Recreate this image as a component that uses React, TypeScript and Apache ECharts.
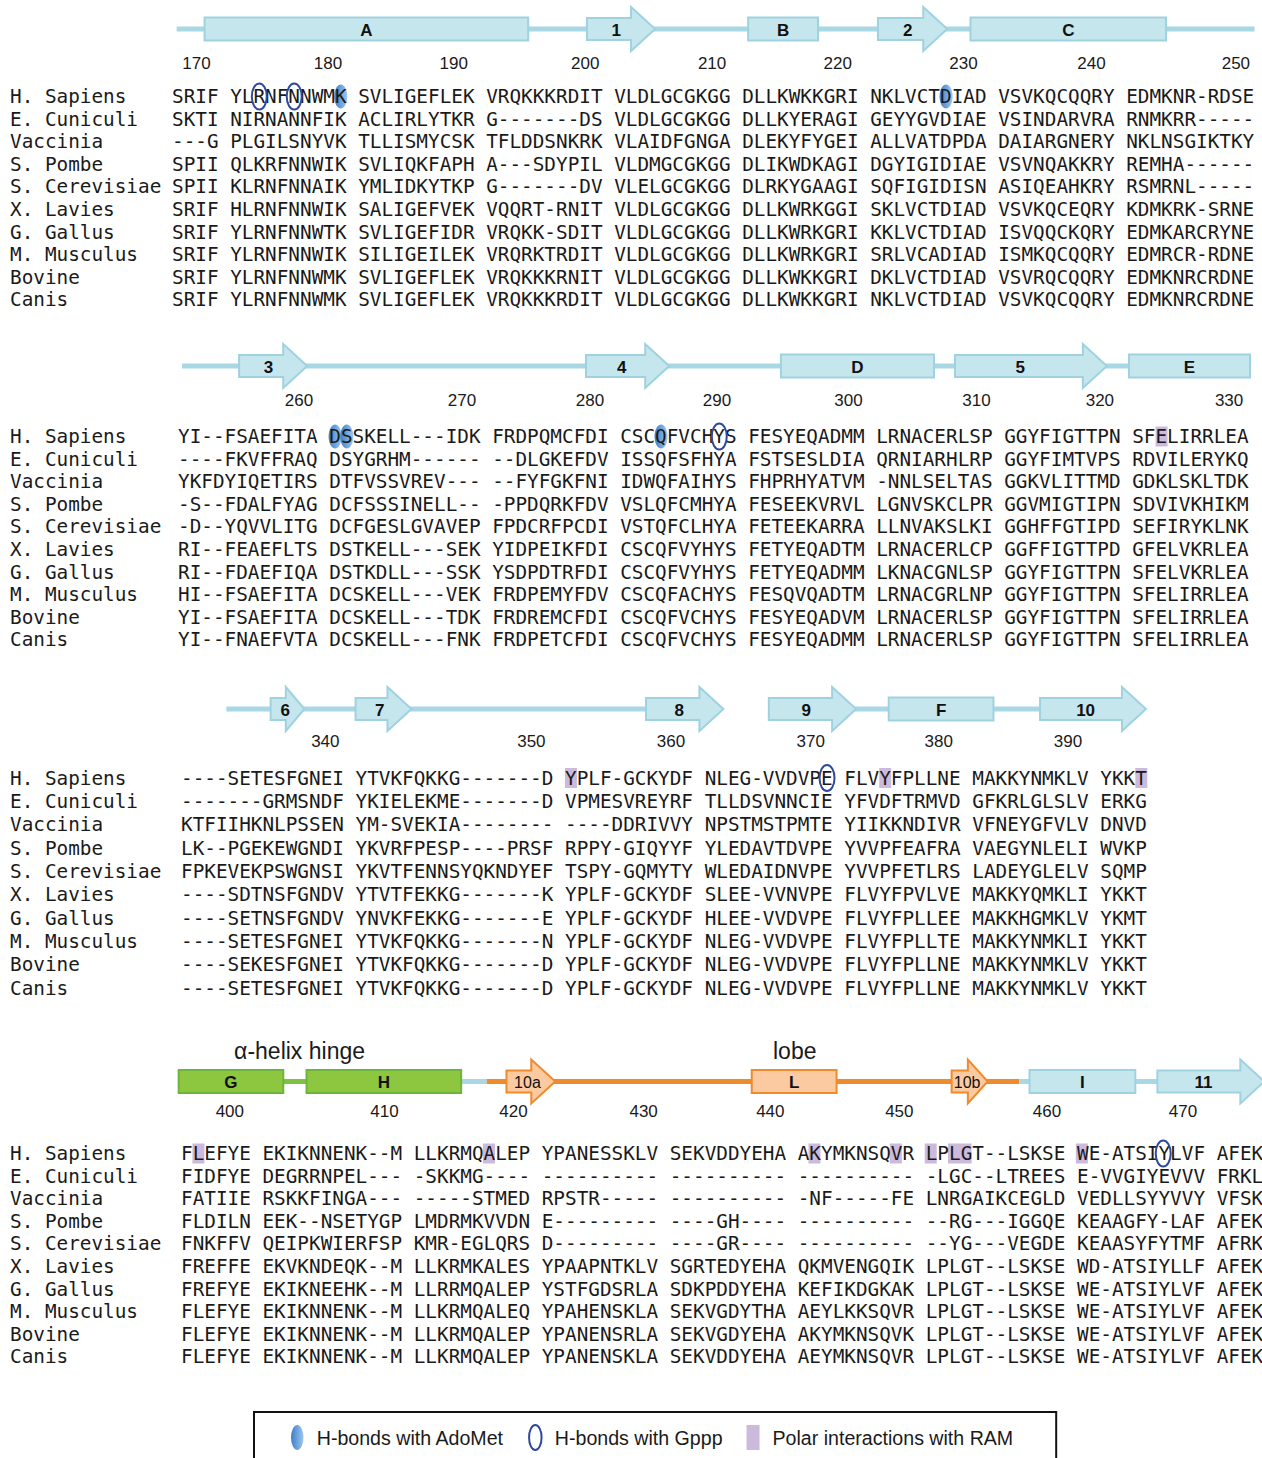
import React, { useEffect, useRef } from "react";
import * as echarts from "echarts";

// ---------------- data ----------------
const SPECIES = ["H. Sapiens", "E. Cuniculi", "Vaccinia", "S. Pombe", "S. Cerevisiae", "X. Lavies", "G. Gallus", "M. Musculus", "Bovine", "Canis"];

const SEQ_1 = [
  "SRIF YLRNFNNWMK SVLIGEFLEK VRQKKKRDIT VLDLGCGKGG DLLKWKKGRI NKLVCTDIAD VSVKQCQQRY EDMKNR-RDSE",
  "SKTI NIRNANNFIK ACLIRLYTKR G-------DS VLDLGCGKGG DLLKYERAGI GEYYGVDIAE VSINDARVRA RNMKRR-----",
  "---G PLGILSNYVK TLLISMYCSK TFLDDSNKRK VLAIDFGNGA DLEKYFYGEI ALLVATDPDA DAIARGNERY NKLNSGIKTKY",
  "SPII QLKRFNNWIK SVLIQKFAPH A---SDYPIL VLDMGCGKGG DLIKWDKAGI DGYIGIDIAE VSVNQAKKRY REMHA------",
  "SPII KLRNFNNAIK YMLIDKYTKP G-------DV VLELGCGKGG DLRKYGAAGI SQFIGIDISN ASIQEAHKRY RSMRNL-----",
  "SRIF HLRNFNNWIK SALIGEFVEK VQQRT-RNIT VLDLGCGKGG DLLKWRKGGI SKLVCTDIAD VSVKQCEQRY KDMKRK-SRNE",
  "SRIF YLRNFNNWTK SVLIGEFIDR VRQKK-SDIT VLDLGCGKGG DLLKWRKGRI KKLVCTDIAD ISVQQCKQRY EDMKARCRYNE",
  "SRIF YLRNFNNWIK SILIGEILEK VRQRKTRDIT VLDLGCGKGG DLLKWRKGRI SRLVCADIAD ISMKQCQQRY EDMRCR-RDNE",
  "SRIF YLRNFNNWMK SVLIGEFLEK VRQKKKRNIT VLDLGCGKGG DLLKWKKGRI DKLVCTDIAD VSVRQCQQRY EDMKNRCRDNE",
  "SRIF YLRNFNNWMK SVLIGEFLEK VRQKKKRDIT VLDLGCGKGG DLLKWKKGRI NKLVCTDIAD VSVKQCQQRY EDMKNRCRDNE",
];
const SEQ_2 = [
  "YI--FSAEFITA DSSKELL---IDK FRDPQMCFDI CSCQFVCHYS FESYEQADMM LRNACERLSP GGYFIGTTPN SFELIRRLEA",
  "----FKVFFRAQ DSYGRHM------ --DLGKEFDV ISSQFSFHYA FSTSESLDIA QRNIARHLRP GGYFIMTVPS RDVILERYKQ",
  "YKFDYIQETIRS DTFVSSVREV--- --FYFGKFNI IDWQFAIHYS FHPRHYATVM -NNLSELTAS GGKVLITTMD GDKLSKLTDK",
  "-S--FDALFYAG DCFSSSINELL-- -PPDQRKFDV VSLQFCMHYA FESEEKVRVL LGNVSKCLPR GGVMIGTIPN SDVIVKHIKM",
  "-D--YQVVLITG DCFGESLGVAVEP FPDCRFPCDI VSTQFCLHYA FETEEKARRA LLNVAKSLKI GGHFFGTIPD SEFIRYKLNK",
  "RI--FEAEFLTS DSTKELL---SEK YIDPEIKFDI CSCQFVYHYS FETYEQADTM LRNACERLCP GGFFIGTTPD GFELVKRLEA",
  "RI--FDAEFIQA DSTKDLL---SSK YSDPDTRFDI CSCQFVYHYS FETYEQADMM LKNACGNLSP GGYFIGTTPN SFELVKRLEA",
  "HI--FSAEFITA DCSKELL---VEK FRDPEMYFDV CSCQFACHYS FESQVQADTM LRNACGRLNP GGYFIGTTPN SFELIRRLEA",
  "YI--FSAEFITA DCSKELL---TDK FRDREMCFDI CSCQFVCHYS FESYEQADVM LRNACERLSP GGYFIGTTPN SFELIRRLEA",
  "YI--FNAEFVTA DCSKELL---FNK FRDPETCFDI CSCQFVCHYS FESYEQADMM LRNACERLSP GGYFIGTTPN SFELIRRLEA",
];
const SEQ_3 = [
  "----SETESFGNEI YTVKFQKKG-------D YPLF-GCKYDF NLEG-VVDVPE FLVYFPLLNE MAKKYNMKLV YKKT",
  "-------GRMSNDF YKIELEKME-------D VPMESVREYRF TLLDSVNNCIE YFVDFTRMVD GFKRLGLSLV ERKG",
  "KTFIIHKNLPSSEN YM-SVEKIA-------- ----DDRIVVY NPSTMSTPMTE YIIKKNDIVR VFNEYGFVLV DNVD",
  "LK--PGEKEWGNDI YKVRFPESP----PRSF RPPY-GIQYYF YLEDAVTDVPE YVVPFEAFRA VAEGYNLELI WVKP",
  "FPKEVEKPSWGNSI YKVTFENNSYQKNDYEF TSPY-GQMYTY WLEDAIDNVPE YVVPFETLRS LADEYGLELV SQMP",
  "----SDTNSFGNDV YTVTFEKKG-------K YPLF-GCKYDF SLEE-VVNVPE FLVYFPVLVE MAKKYQMKLI YKKT",
  "----SETNSFGNDV YNVKFEKKG-------E YPLF-GCKYDF HLEE-VVDVPE FLVYFPLLEE MAKKHGMKLV YKMT",
  "----SETESFGNEI YTVKFQKKG-------N YPLF-GCKYDF NLEG-VVDVPE FLVYFPLLTE MAKKYNMKLI YKKT",
  "----SEKESFGNEI YTVKFQKKG-------D YPLF-GCKYDF NLEG-VVDVPE FLVYFPLLNE MAKKYNMKLV YKKT",
  "----SETESFGNEI YTVKFQKKG-------D YPLF-GCKYDF NLEG-VVDVPE FLVYFPLLNE MAKKYNMKLV YKKT",
];
const SEQ_4 = [
  "FLEFYE EKIKNNENK--M LLKRMQALEP YPANESSKLV SEKVDDYEHA AKYMKNSQVR LPLGT--LSKSE WE-ATSIYLVF AFEK",
  "FIDFYE DEGRRNPEL--- -SKKMG---- ---------- ---------- ---------- -LGC--LTREES E-VVGIYEVVV FRKL",
  "FATIIE RSKKFINGA--- -----STMED RPSTR----- ---------- -NF-----FE LNRGAIKCEGLD VEDLLSYYVVY VFSK",
  "FLDILN EEK--NSETYGP LMDRMKVVDN E--------- ----GH---- ---------- --RG---IGGQE KEAAGFY-LAF AFEK",
  "FNKFFV QEIPKWIERFSP KMR-EGLQRS D--------- ----GR---- ---------- --YG---VEGDE KEAASYFYTMF AFRK",
  "FREFFE EKVKNDEQK--M LLKRMKALES YPAAPNTKLV SGRTEDYEHA QKMVENGQIK LPLGT--LSKSE WD-ATSIYLLF AFEK",
  "FREFYE EKIKNEEHK--M LLRRMQALEP YSTFGDSRLA SDKPDDYEHA KEFIKDGKAK LPLGT--LSKSE WE-ATSIYLVF AFEK",
  "FLEFYE EKIKNNENK--M LLKRMQALEQ YPAHENSKLA SEKVGDYTHA AEYLKKSQVR LPLGT--LSKSE WE-ATSIYLVF AFEK",
  "FLEFYE EKIKNNENK--M LLKRMQALEP YPANENSRLA SEKVGDYEHA AKYMKNSQVK LPLGT--LSKSE WE-ATSIYLVF AFEK",
  "FLEFYE EKIKNNENK--M LLKRMQALEP YPANENSKLA SEKVDDYEHA AEYMKNSQVR LPLGT--LSKSE WE-ATSIYLVF AFEK",
];

// residue number tick labels and the alignment column they sit over
const TICKS_1 = [170, 180, 190, 200, 210, 220, 230, 240, 250];
const TICK_COLS_1 = [2.1, 13.4, 24.2, 35.5, 46.4, 57.2, 68.0, 79.0, 91.4];
const TICKS_2 = [260, 270, 280, 290, 300, 310, 320, 330];
const TICK_COLS_2 = [10.4, 24.4, 35.4, 46.3, 57.6, 68.6, 79.2, 90.3];
const TICKS_3 = [340, 350, 360, 370, 380, 390];
const TICK_COLS_3 = [12.4, 30.1, 42.1, 54.1, 65.1, 76.2];
const TICKS_4 = [400, 410, 420, 430, 440, 450, 460, 470];
const TICK_COLS_4 = [4.2, 17.5, 28.6, 39.8, 50.7, 61.8, 74.5, 86.2];

// secondary structure: [kind, start column, end column, label, domain]
const SS_1 = [
  ["coil", 0.4, 93, "", "core"],
  ["helix", 2.8, 30.6, "A", "core"],
  ["strand", 35.65, 41.5, "1", "core"],
  ["helix", 49.5, 55.5, "B", "core"],
  ["strand", 60.65, 66.6, "2", "core"],
  ["helix", 68.6, 85.4, "C", "core"],
];
const SS_2 = [
  ["coil", 0.35, 82, "", "core"],
  ["strand", 5.25, 11.1, "3", "core"],
  ["strand", 35.05, 42.2, "4", "core"],
  ["helix", 51.8, 64.95, "D", "core"],
  ["strand", 66.75, 79.8, "5", "core"],
  ["helix", 81.7, 92.1, "E", "core"],
];
const SS_3 = [
  ["coil", 3.9, 44.6, "", "core"],
  ["coil", 57.9, 73.8, "", "core"],
  ["strand", 7.7, 10.6, "6", "core"],
  ["strand", 15.0, 19.8, "7", "core"],
  ["strand", 39.95, 46.6, "8", "core"],
  ["strand", 50.5, 58.0, "9", "core"],
  ["helix", 60.8, 69.8, "F", "core"],
  ["strand", 73.8, 82.9, "10", "core"],
];
const SS_4 = [
  ["coil", 8.8, 10.8, "", "hinge"],
  ["coil", 24.1, 26.3, "", "core"],
  ["coil", 26.3, 72.1, "", "lobe"],
  ["coil", 72.1, 93, "", "core"],
  ["helix", -0.2, 8.8, "G", "hinge"],
  ["helix", 10.8, 24.1, "H", "hinge"],
  ["strand", 28.0, 32.2, "10a", "lobe"],
  ["helix", 49.1, 56.4, "L", "lobe"],
  ["strand", 66.3, 69.4, "10b", "lobe"],
  ["helix", 73.0, 82.1, "I", "core"],
  ["strand", 84.0, 93.2, "11", "core"],
];
const REGION_LABELS = ["α-helix hinge", "lobe"];
const REGION_COLS = [10.2, 52.8];

// interactions marked on the H. Sapiens row (alignment column)
const ADOMET_1 = [14, 66];
const GPPP_1 = [7, 10];
const RAM_1: number[] = [];
const ADOMET_2 = [13, 14, 41];
const GPPP_2 = [46];
const RAM_2 = [84];
const ADOMET_3: number[] = [];
const GPPP_3 = [55];
const RAM_3 = [33, 60, 82];
const ADOMET_4: number[] = [];
const GPPP_4 = [84];
const RAM_4 = [1, 26, 54, 61, 64, 66, 67, 77];

const LEGEND_NAMES = ["H-bonds with AdoMet", "H-bonds with Gppp", "Polar interactions with RAM"];

// ---------------- styles / layout ----------------
const CW = 11.64;
const FS = CW / 0.60205;
const MONO = "'DejaVu Sans Mono', 'Liberation Mono', monospace";
const SANS = "'Liberation Sans', Arial, Helvetica, sans-serif";
const NARROW = "'Liberation Sans Narrow', 'Liberation Sans', Arial, sans-serif";
const TEXT = "#1a1a1a";

const DOMAIN: Record<string, { line: string; fill: string; stroke: string }> = {
  core: { line: "#a9d8e5", fill: "#c6e6ee", stroke: "#9fd2e0" },
  hinge: { line: "#7dc242", fill: "#8dc63f", stroke: "#6fb43a" },
  lobe: { line: "#ef8a2d", fill: "#fccaa0", stroke: "#ef8a2d" },
};
const GPPP_COLOR = "#2f4a9a";
const RAM_COLOR = "#cbbadc";

const LAYOUT = [
  { left: 172, row0: 96.5, gap: 22.6, trackY: 29, tickY: 63, ncols: 93 },
  { left: 178, row0: 436.5, gap: 22.6, trackY: 366, tickY: 400, ncols: 92 },
  { left: 181, row0: 778, gap: 23.37, trackY: 709, tickY: 741.5, ncols: 83 },
  { left: 181, row0: 1153.5, gap: 22.6, trackY: 1081.5, tickY: 1111.7, ncols: 93 },
];

const BLOCKS = [
  { seq: SEQ_1, ss: SS_1, ticks: TICKS_1, tickCols: TICK_COLS_1, adomet: ADOMET_1, gppp: GPPP_1, ram: RAM_1 },
  { seq: SEQ_2, ss: SS_2, ticks: TICKS_2, tickCols: TICK_COLS_2, adomet: ADOMET_2, gppp: GPPP_2, ram: RAM_2 },
  { seq: SEQ_3, ss: SS_3, ticks: TICKS_3, tickCols: TICK_COLS_3, adomet: ADOMET_3, gppp: GPPP_3, ram: RAM_3 },
  { seq: SEQ_4, ss: SS_4, ticks: TICKS_4, tickCols: TICK_COLS_4, adomet: ADOMET_4, gppp: GPPP_4, ram: RAM_4 },
];

function adometFill() {
  return new echarts.graphic.LinearGradient(0, 0, 1, 0, [
    { offset: 0, color: "#3e7ec8" },
    { offset: 1, color: "#9dc7ee" },
  ]);
}

function buildOption() {
  const grid: any[] = [];
  const xAxis: any[] = [];
  const yAxis: any[] = [];
  const series: any[] = [];

  BLOCKS.forEach((b, i) => {
    const L = LAYOUT[i];
    const W = L.ncols * CW;
    const tIdx = 2 * i;
    const sIdx = 2 * i + 1;
    const tickFs = 17;

    // track grid
    grid.push({ left: L.left, top: L.trackY - 20, width: W, height: 40 });
    xAxis.push({
      type: "value", gridIndex: tIdx, min: 0, max: L.ncols,
      axisLine: { show: false }, axisTick: { show: false }, splitLine: { show: false },
      axisLabel: {
        customValues: b.tickCols,
        margin: L.tickY - tickFs / 2 - (L.trackY + 20),
        fontFamily: SANS, fontSize: tickFs, color: TEXT,
        formatter: (v: number) => {
          let k = 0, best = 1e9;
          b.tickCols.forEach((c, j) => { const d = Math.abs(c - v); if (d < best) { best = d; k = j; } });
          return String(b.ticks[k]);
        },
      },
    });
    yAxis.push({ type: "value", gridIndex: tIdx, min: -1, max: 1, show: false });

    // sequence grid
    grid.push({ left: L.left, top: L.row0 - L.gap / 2, width: W, height: L.gap * 10 });
    xAxis.push({ type: "value", gridIndex: sIdx, min: 0, max: L.ncols, show: false });
    yAxis.push({
      type: "category", gridIndex: sIdx, data: SPECIES, inverse: true,
      axisLine: { show: false }, axisTick: { show: false }, splitLine: { show: false },
      axisLabel: { interval: 0, align: "left", margin: L.left - 10, fontFamily: MONO, fontSize: FS, color: TEXT },
    });

    // secondary structure
    const ss = b.ss as any[];
    series.push({
      type: "custom", name: "ss" + i, xAxisIndex: tIdx, yAxisIndex: tIdx, silent: true, z: 2,
      data: ss.map((e) => [e[1], e[2]]),
      encode: { x: [0, 1] },
      renderItem: (params: any, api: any) => {
        const e = ss[params.dataIndex];
        const kind = e[0], label = e[3] as string;
        const c = DOMAIN[e[4]];
        const p0 = api.coord([e[1], 0]);
        const p1 = api.coord([e[2], 0]);
        const x0 = p0[0], x1 = p1[0], y = p0[1];
        if (kind === "coil") {
          return { type: "rect", shape: { x: x0, y: y - 2.5, width: x1 - x0, height: 5 }, style: { fill: c.line } };
        }
        const children: any[] = [];
        let lx: number;
        if (kind === "helix") {
          children.push({ type: "rect", shape: { x: x0, y: y - 11.5, width: x1 - x0, height: 23 }, style: { fill: c.fill, stroke: c.stroke, lineWidth: 2 } });
          lx = (x0 + x1) / 2;
        } else {
          const len = x1 - x0;
          const head = Math.min(24, len * 0.55);
          const xb = x1 - head;
          children.push({
            type: "polygon",
            shape: { points: [[x0, y - 11], [xb, y - 11], [xb, y - 22], [x1, y], [xb, y + 22], [xb, y + 11], [x0, y + 11]] },
            style: { fill: c.fill, stroke: c.stroke, lineWidth: 2, lineJoin: "miter" },
          });
          lx = x0 + 0.43 * len;
        }
        const small = label.length > 2;
        children.push({
          type: "text", x: lx, y: y + 1,
          style: { text: label, fill: "#111", fontFamily: NARROW, fontSize: small ? 16 : 17, fontWeight: small ? "normal" : "bold", align: "center", verticalAlign: "middle" },
        });
        return { type: "group", children };
      },
    });

    if (i === 3) {
      series.push({
        type: "custom", name: "regions", xAxisIndex: tIdx, yAxisIndex: tIdx, silent: true, z: 2,
        data: REGION_COLS.map((c) => [c, 0]),
        encode: { x: 0, y: 1 },
        renderItem: (params: any, api: any) => {
          const p = api.coord([api.value(0), 0]);
          return { type: "text", x: p[0], y: p[1] - 31, style: { text: REGION_LABELS[params.dataIndex], fill: TEXT, fontFamily: SANS, fontSize: 23, align: "center", verticalAlign: "middle" } };
        },
      });
    }

    // interaction highlights (H. Sapiens row)
    series.push({
      type: "custom", name: LEGEND_NAMES[0], xAxisIndex: sIdx, yAxisIndex: sIdx, z: 1, silent: true,
      itemStyle: { color: "#5b97d6" },
      data: b.adomet.map((c) => [c + 0.5, 0]),
      encode: { x: 0, y: 1 },
      renderItem: (params: any, api: any) => {
        const p = api.coord([api.value(0), api.value(1)]);
        return { type: "ellipse", shape: { cx: p[0], cy: p[1], rx: 6.5, ry: 12 }, style: { fill: adometFill() } };
      },
    });
    series.push({
      type: "custom", name: LEGEND_NAMES[2], xAxisIndex: sIdx, yAxisIndex: sIdx, z: 1, silent: true,
      itemStyle: { color: RAM_COLOR },
      data: b.ram.map((c) => [c + 0.5, 0]),
      encode: { x: 0, y: 1 },
      renderItem: (params: any, api: any) => {
        const p = api.coord([api.value(0), api.value(1)]);
        return { type: "rect", shape: { x: p[0] - 6, y: p[1] - 10, width: 12, height: 20 }, style: { fill: RAM_COLOR } };
      },
    });

    // sequences
    series.push({
      type: "custom", name: "seq" + i, xAxisIndex: sIdx, yAxisIndex: sIdx, z: 3, silent: true,
      data: b.seq.map((_, r) => [0, r]),
      encode: { x: 0, y: 1 },
      renderItem: (params: any, api: any) => {
        const r = params.dataIndex;
        const p = api.coord([0, r]);
        return { type: "text", x: p[0], y: p[1], style: { text: b.seq[r], fill: TEXT, fontFamily: MONO, fontSize: FS, align: "left", verticalAlign: "middle" } };
      },
    });

    series.push({
      type: "custom", name: LEGEND_NAMES[1], xAxisIndex: sIdx, yAxisIndex: sIdx, z: 4, silent: true,
      itemStyle: { color: GPPP_COLOR },
      data: b.gppp.map((c) => [c + 0.5, 0]),
      encode: { x: 0, y: 1 },
      renderItem: (params: any, api: any) => {
        const p = api.coord([api.value(0), api.value(1)]);
        return { type: "ellipse", shape: { cx: p[0], cy: p[1], rx: 7.5, ry: 13 }, style: { fill: "none", stroke: GPPP_COLOR, lineWidth: 2 } };
      },
    });
  });

  const ellipse = "path://M6,0 A6,12 0 1,1 6,24 A6,12 0 1,1 6,0 Z";
  return {
    animation: false,
    grid, xAxis, yAxis, series,
    legend: {
      left: 254, top: 1412, orient: "horizontal",
      itemGap: 24, itemWidth: 13, itemHeight: 25,
      padding: [12, 43, 14, 37],
      borderColor: "#111", borderWidth: 2,
      selectedMode: false,
      textStyle: { fontFamily: SANS, fontSize: 19.6, color: TEXT, padding: [0, 0, 0, 8] },
      data: [
        { name: LEGEND_NAMES[0], icon: ellipse, itemStyle: { color: adometFill(), borderWidth: 0 } },
        { name: LEGEND_NAMES[1], icon: ellipse, itemStyle: { color: "rgba(0,0,0,0)", borderColor: GPPP_COLOR, borderWidth: 2 } },
        { name: LEGEND_NAMES[2], icon: "rect", itemStyle: { color: RAM_COLOR, borderWidth: 0 } },
      ],
    },
  };
}

export default function App() {
  const ref = useRef<HTMLDivElement>(null);
  useEffect(() => {
    if (!ref.current) return;
    const chart = echarts.init(ref.current, undefined, { renderer: "svg" });
    chart.setOption(buildOption() as any);
    return () => chart.dispose();
  }, []);
  return (
    <div
      ref={ref}
      style={{ position: "fixed", left: 0, top: 0, width: 1262, height: 1458, background: "#fff" }}
    />
  );
}
